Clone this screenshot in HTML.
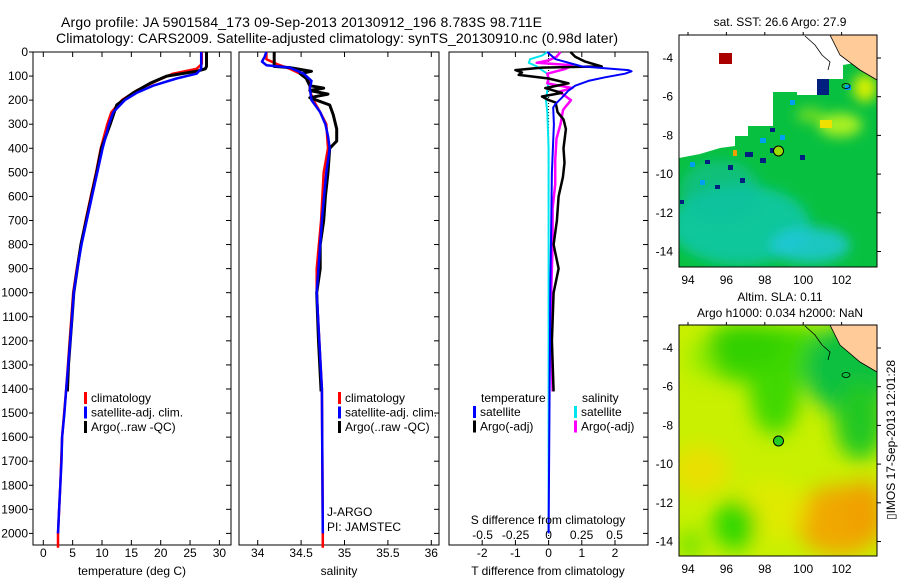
<!DOCTYPE html>
<html><head><meta charset="utf-8"><style>
body{margin:0;background:#fff}
svg{display:block;font-family:"Liberation Sans",sans-serif}
text{font-size:12px;fill:#000}
</style></head><body>
<svg id="fig" width="900" height="580" viewBox="0 0 900 580" xmlns="http://www.w3.org/2000/svg">
<defs>
<filter id="blur1" x="-20%" y="-20%" width="140%" height="140%"><feGaussianBlur stdDeviation="6"/></filter>
<filter id="blur2" x="-20%" y="-20%" width="140%" height="140%"><feGaussianBlur stdDeviation="10"/></filter>
<clipPath id="clipTop"><rect x="679" y="35" width="198" height="232"/></clipPath>
<clipPath id="clipBot"><rect x="679" y="325" width="198" height="231"/></clipPath>
</defs>
<text x="61" y="27" style="font-size:14px" textLength="481">Argo profile: JA 5901584_173 09-Sep-2013 20130912_196 8.783S 98.711E</text>
<text x="56" y="43" style="font-size:14px" textLength="562">Climatology: CARS2009. Satellite-adjusted climatology: synTS_20130910.nc (0.98d later)</text>
<g id="plots"></g>

<!-- top map -->
<g>
<text x="780" y="26" text-anchor="middle">sat. SST: 26.6 Argo: 27.9</text>
<g clip-path="url(#clipTop)">
<rect x="679" y="35" width="198" height="232" fill="#fff"/>
<polygon points="679,158 700,154 720,148 735,146 735,136 748,136 748,126 773,126 773,92 797,92 797,95 817,95 817,79 843,79 843,65 860,62 877,78 877,267 679,267" fill="#08c040"/>
<g filter="url(#blur1)">
<ellipse cx="740" cy="225" rx="70" ry="40" fill="#10c8b0" opacity="0.8"/>
<ellipse cx="810" cy="245" rx="40" ry="18" fill="#20c8e0" opacity="0.8"/>
<ellipse cx="720" cy="190" rx="40" ry="30" fill="#10c0a0" opacity="0.6"/>
<ellipse cx="840" cy="125" rx="22" ry="12" fill="#a8f020"/>
<ellipse cx="865" cy="88" rx="12" ry="14" fill="#d8f000"/>
<ellipse cx="810" cy="115" rx="14" ry="8" fill="#80e020" opacity="0.8"/>
</g>
<rect x="820" y="120" width="12" height="8" fill="#f0e000"/>
<g fill="#002080">
<rect x="817" y="79" width="12" height="16"/><rect x="745" y="152" width="8" height="5"/><rect x="760" y="158" width="6" height="5"/><rect x="770" y="148" width="8" height="5"/><rect x="800" y="155" width="5" height="5"/><rect x="728" y="165" width="5" height="5"/><rect x="740" y="178" width="5" height="5"/><rect x="770" y="128" width="5" height="4"/><rect x="705" y="160" width="5" height="4"/><rect x="680" y="200" width="4" height="4"/><rect x="715" y="185" width="5" height="4"/>
</g>
<g fill="#00a0f0">
<rect x="690" y="162" width="5" height="5"/><rect x="760" y="138" width="6" height="5"/><rect x="780" y="135" width="5" height="5"/><rect x="700" y="180" width="5" height="5"/><rect x="790" y="100" width="5" height="5"/><rect x="845" y="85" width="6" height="5"/>
</g>
<rect x="733" y="150" width="4" height="6" fill="#f0a000"/>
<polygon points="830,35 877,35 877,80 860,70 840,55" fill="#ffcc99" stroke="#000" stroke-width="0.8"/>
<path d="M805,36 L815,45 L822,55 L830,62 L828,70" fill="none" stroke="#000" stroke-width="0.8"/>
<ellipse cx="846" cy="86" rx="4" ry="2.5" fill="none" stroke="#000" stroke-width="0.8"/>
<rect x="719" y="53" width="13" height="11" fill="#aa0000"/>
<circle cx="778.5" cy="151" r="5" fill="#99dd00" stroke="#000"/>
</g>
<rect x="679" y="35" width="198" height="232" fill="none" stroke="#000"/>
<g id="mapTopAxes"></g>
</g>

<!-- bottom map -->
<g>
<text x="780" y="301" text-anchor="middle">Altim. SLA: 0.11</text>
<text x="780" y="317" text-anchor="middle">Argo h1000: 0.034 h2000: NaN</text>
<g clip-path="url(#clipBot)">
<rect x="679" y="325" width="198" height="231" fill="#c8f000"/>
<g filter="url(#blur2)">
<ellipse cx="775" cy="355" rx="80" ry="30" fill="#40d800"/>
<ellipse cx="775" cy="390" rx="25" ry="45" fill="#40d800"/>
<ellipse cx="745" cy="345" rx="40" ry="22" fill="#30d000"/>
<ellipse cx="850" cy="370" rx="45" ry="45" fill="#10c040"/>
<ellipse cx="860" cy="420" rx="25" ry="40" fill="#20c820"/>
<ellipse cx="840" cy="520" rx="45" ry="35" fill="#f0a800"/>
<ellipse cx="865" cy="510" rx="20" ry="30" fill="#f0a000"/>
<ellipse cx="700" cy="470" rx="30" ry="25" fill="#e8e000"/>
<ellipse cx="770" cy="510" rx="40" ry="30" fill="#e8e800" opacity="0.7"/>
<ellipse cx="735" cy="525" rx="22" ry="25" fill="#30d800"/>
<ellipse cx="690" cy="545" rx="10" ry="15" fill="#60e000"/>
<ellipse cx="700" cy="360" rx="15" ry="20" fill="#a0f000" opacity="0.7"/>
</g>
<polygon points="830,325 877,325 877,372 860,362 840,345" fill="#ffcc99" stroke="#000" stroke-width="0.8"/>
<path d="M805,326 L815,335 L822,345 L830,352 L828,360" fill="none" stroke="#000" stroke-width="0.8"/>
<ellipse cx="846" cy="375" rx="4" ry="2.5" fill="none" stroke="#000" stroke-width="0.8"/>
<circle cx="778.5" cy="441" r="5" fill="#22cc22" stroke="#000"/>
</g>
<rect x="679" y="325" width="198" height="231" fill="none" stroke="#000"/>
<g id="mapBotAxes"></g>
</g>
<text transform="translate(895,440) rotate(-90)" text-anchor="middle">▯IMOS 17-Sep-2013 12:01:28</text>
</svg>
<script>
// ---- data: temperature panel ----
const tDepthArgo=[0,60,70,80,100,130,170,220,300,400,500,600,700,800,900,1000,1100,1200,1300,1410];
const tArgo=[27.8,27.8,27.6,26.1,21.0,18.2,15.3,12.5,11.4,9.9,9.1,8.2,7.3,6.4,5.8,5.2,4.9,4.6,4.3,4.1];
const tDepthClim=[0,50,70,90,120,160,200,250,300,400,500,600,700,800,900,1000,1200,1400,1600,1800,2000,2060];
const tClim=[27.0,27.0,26.1,22.1,19.3,15.9,13.4,11.6,10.9,9.8,9.0,8.1,7.2,6.4,5.7,5.1,4.5,3.9,3.2,2.9,2.5,2.5];
const tDepthSat=[0,70,90,110,140,170,200,250,300,400,500,600,700,800,900,1000,1200,1400,1500,1600,1700,1800,1900,2000];
const tSat=[26.9,26.9,26.1,22.7,18.7,15.9,13.9,11.9,11.2,10.1,9.2,8.3,7.4,6.5,5.8,5.2,4.6,3.9,3.6,3.2,3.1,2.9,2.7,2.5];
const tTicks=[0,5,10,15,20,25,30];
// ---- data: salinity panel ----
const sDepthArgo=[0,60,65,80,90,110,140,150,160,175,190,220,260,320,370,400,500,600,700,800,900,1000,1200,1410];
const sArgo=[34.19,34.19,34.37,34.62,34.49,34.56,34.60,34.76,34.60,34.81,34.60,34.83,34.87,34.91,34.91,34.83,34.81,34.78,34.76,34.72,34.72,34.68,34.70,34.73];
const sDepthClim=[0,30,50,70,90,120,160,200,250,300,400,500,700,900,1000,1400,2000,2060];
const sClim=[34.10,34.10,34.22,34.37,34.49,34.60,34.60,34.64,34.72,34.79,34.81,34.76,34.73,34.68,34.68,34.74,34.75,34.75];
const sDepthSat=[0,20,40,55,65,90,120,150,200,250,300,350,400,500,700,1000,1400,2000];
const sSat=[34.10,34.08,34.05,34.10,34.37,34.53,34.62,34.60,34.62,34.72,34.78,34.81,34.83,34.79,34.74,34.68,34.74,34.75];
const sTicks=[34,34.5,35,35.5,36];
// ---- data: difference panel ----
const dDepthTSat=[0,30,60,75,80,90,105,120,140,160,190,215,230,300,500,1000,2000];
const dTSat=[-0.04,0.21,1.0,2.4,2.5,2.3,1.7,1.2,0.8,0.6,0.4,0.21,0.14,0.16,0.1,0.05,0.0];
const dDepthTArgo=[0,20,40,60,65,75,85,95,110,130,150,170,185,200,210,250,280,320,400,460,520,600,700,800,900,1000,1200,1410];
const dTArgo=[0.66,0.8,1.1,1.6,-0.2,-1.0,-0.8,-0.9,0,0.6,-0.1,0.4,-0.2,0,0.21,0.27,0.45,0.52,0.45,0.48,0.43,0.3,0.25,0.15,0.3,0.15,0.1,0.15];
const dDepthSSat=[0,15,30,45,60,90,120,160,200,250,400,1000,2000];
const dSSat=[-0.01,-0.05,-0.14,-0.15,-0.09,-0.01,0,-0.01,-0.02,-0.01,0,0,0];
const dDepthSArgo=[0,20,35,45,55,70,90,110,130,150,165,200,240,300,360,450,550,650,800,1000,1200,1410];
const dSArgo=[0.09,0.06,0,-0.09,0.18,0.13,-0.01,0,-0.01,0.18,0.08,0.17,0.11,0.09,0.06,0.05,0.05,0.03,0.03,0.02,0.02,0.03];
const dTTicks=[-2,-1,0,1,2];
const dSTicks=[-0.5,-0.25,0,0.25,0.5];
const depthTicks=[0,100,200,300,400,500,600,700,800,900,1000,1100,1200,1300,1400,1500,1600,1700,1800,1900,2000];
const lonTicks=[94,96,98,100,102];
const latTicks=[-4,-6,-8,-10,-12,-14];

const NS='http://www.w3.org/2000/svg';
const TOP=52, BOT=545;
const yDepth=d=>TOP+d*0.2407;
const xT=v=>43.3+v*5.87;
const xS=v=>257.7+(v-34)*86.8;
const xDT=v=>548.6+v*33.2;
const xDS=v=>548.6+v*132;
const plots=document.getElementById('plots');
function mk(tag,attrs,parent){const e=document.createElementNS(NS,tag);for(const k in attrs)e.setAttribute(k,attrs[k]);(parent||plots).appendChild(e);return e;}
function txt(x,y,s,anchor,parent){const e=mk('text',{x:x,y:y,'text-anchor':anchor||'start'},parent);e.textContent=s;return e;}
function line(depths,vals,fx,color,name,w){
  let d='';
  for(let i=0;i<depths.length;i++){d+=(i?'L':'M')+fx(vals[i]).toFixed(1)+','+yDepth(depths[i]).toFixed(1);}
  const p=mk('path',{d:d,fill:'none',stroke:color,'stroke-width':w||2.5,'stroke-linejoin':'round'});
  
  
}
function frame(x0,x1,name){
  const r=mk('rect',{x:x0,y:TOP,width:x1-x0,height:BOT-TOP,fill:'none',stroke:'#000'});
  
  
  depthTicks.forEach(d=>{mk('line',{x1:x1-5,x2:x1,y1:yDepth(d),y2:yDepth(d),stroke:'#000'});});
}
function xticks(ticks,fx,y,lab){
  ticks.forEach(t=>{
    mk('line',{x1:fx(t),x2:fx(t),y1:BOT,y2:BOT-5,stroke:'#000'});
    mk('line',{x1:fx(t),x2:fx(t),y1:TOP,y2:TOP+5,stroke:'#000'});
    if(lab){const e=txt(fx(t),y,String(t),'middle');}
  });
}
function legend(x,y,items){
  items.forEach((it,i)=>{
    mk('rect',{x:x,y:y+i*14.5-10,width:3,height:12,fill:it[1]});
    const e=txt(x+7,y+i*14.5,it[0]);
    
    
  });
}
// panel 1
frame(33,231,'temperature-panel');
depthTicks.forEach(d=>{mk('line',{x1:29,x2:33,y1:yDepth(d),y2:yDepth(d),stroke:'#000'});const e=txt(28,yDepth(d)+4,String(d),'end');});
xticks(tTicks,xT,557,true);
line(tDepthClim,tClim,xT,'#ff0000','temp-climatology');
line(tDepthArgo,tArgo,xT,'#000000','temp-argo',3);
line(tDepthSat,tSat,xT,'#0000ff','temp-satellite-adj');
legend(84,402,[['climatology','#ff0000'],['satellite-adj. clim.','#0000ff'],['Argo(..raw -QC)','#000000']]);
txt(132,575,'temperature (deg C)','middle');
// panel 2
frame(239,439,'salinity-panel');
xticks(sTicks,xS,557,true);
line(sDepthClim,sClim,xS,'#ff0000','sal-climatology');
line(sDepthArgo,sArgo,xS,'#000000','sal-argo',3);
line(sDepthSat,sSat,xS,'#0000ff','sal-satellite-adj');
legend(338,402,[['climatology','#ff0000'],['satellite-adj. clim.','#0000ff'],['Argo(..raw -QC)','#000000']]);
txt(327,516,'J-ARGO');
txt(327,531,'PI: JAMSTEC');
txt(339,575,'salinity','middle');
// panel 3
frame(449,648,'difference-panel');
xticks(dTTicks,xDT,557,true);
dSTicks.forEach(t=>{const e=txt(xDS(t),539,String(t),'middle');});
mk('line',{x1:548.6,x2:548.6,y1:TOP,y2:BOT,stroke:'#000','stroke-dasharray':'1,2'});
line(dDepthSSat,dSSat,xDS,'#00e5ee','sdiff-satellite',2);
line(dDepthSArgo,dSArgo,xDS,'#ff00ff','sdiff-argo',2.5);
line(dDepthTArgo,dTArgo,xDT,'#000000','tdiff-argo',2.5);
line(dDepthTSat,dTSat,xDT,'#0000ff','tdiff-satellite',2);
txt(481,402,'temperature');
txt(582,402,'salinity');
legend(473,416,[['satellite','#0000ff'],['Argo(-adj)','#000000']]);
legend(574,416,[['satellite','#00e5ee'],['Argo(-adj)','#ff00ff']]);
txt(548,524,'S difference from climatology','middle');
txt(548,575,'T difference from climatology','middle');
// maps axes
function mapAxes(gid,top,lat4y,bottomLabY){
  const g=document.getElementById(gid);
  const xl=lon=>688+(lon-94)*19.2;
  const yl=lat=>lat4y+(-4-lat)*19.35;
  lonTicks.forEach(l=>{
    mk('line',{x1:xl(l),x2:xl(l),y1:top-3,y2:top,stroke:'#000'},g);
    const e=txt(xl(l),bottomLabY,String(l),'middle',g);
    
    
  });
  latTicks.forEach(l=>{
    mk('line',{x1:877,x2:881,y1:yl(l),y2:yl(l),stroke:'#000'},g);
    const e=txt(673,yl(l)+4,String(l),'end',g);
    
    
  });
}
mapAxes('mapTopAxes',35,58,284);
mapAxes('mapBotAxes',325,348,573);
</script>
</body></html>
